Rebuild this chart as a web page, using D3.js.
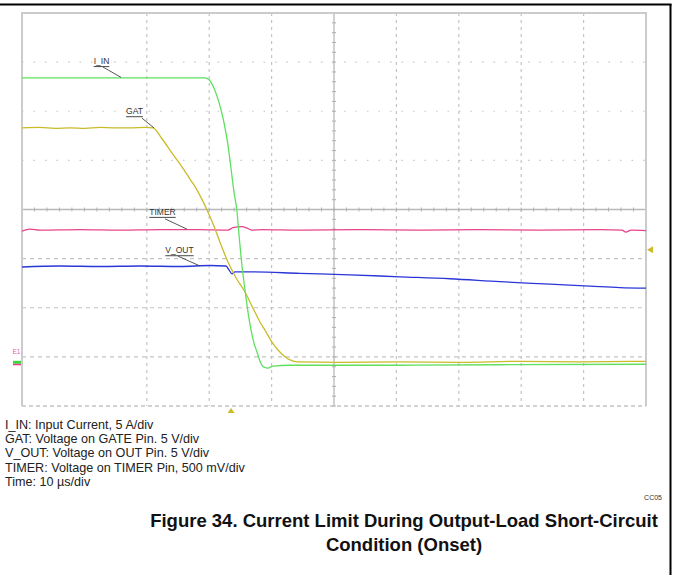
<!DOCTYPE html>
<html><head><meta charset="utf-8">
<script src="https://cdn.jsdelivr.net/npm/d3@7"></script>
<style>body{margin:0;background:#fff}svg{display:block}</style>
</head><body>
<script>
// time in µs (10 µs/div, 10 div), value in divisions (-4..4)
const iinT = [0,29.33,29.97,30.77,31.57,32.37,33.01,33.49,33.97,34.46,34.78,35.26,35.74,36.22,36.70,37.18,37.66,38.14,38.78,39.42,40.22,42.95,60.58,76.60,100];
const iinV = [2.68,2.68,2.64,2.47,2.18,1.77,1.31,0.84,0.36,-0.05,-0.52,-1.15,-1.64,-2.09,-2.45,-2.72,-2.90,-3.09,-3.21,-3.23,-3.19,-3.17,-3.17,-3.16,-3.15];
const gatT = [0,2.88,5.29,7.69,10.10,12.50,14.90,17.31,19.71,20.99,22.44,24.04,25.64,26.92,28.04,29.65,30.77,31.89,33.01,34.29,35.74,37.02,38.14,39.10,40.06,41.03,41.99,42.95,44.23,50.96,60.58,70.19,79.81,89.42,100];
const gatV = [1.66,1.67,1.65,1.66,1.65,1.67,1.66,1.66,1.67,1.66,1.44,1.15,0.87,0.62,0.40,-0.01,-0.34,-0.72,-1.07,-1.39,-1.68,-2.01,-2.29,-2.49,-2.70,-2.86,-2.98,-3.06,-3.10,-3.11,-3.10,-3.11,-3.09,-3.10,-3.09];
const timT = [0,1.28,2.88,9.29,15.71,22.12,28.53,33.01,33.81,35.26,36.06,36.86,38.46,44.55,54.17,63.78,73.40,83.01,92.63,96.15,96.79,97.60,100];
const timV = [-0.44,-0.40,-0.42,-0.41,-0.42,-0.41,-0.41,-0.42,-0.37,-0.35,-0.38,-0.42,-0.41,-0.42,-0.41,-0.42,-0.41,-0.42,-0.41,-0.42,-0.46,-0.42,-0.43];
const voutT = [0,6.09,12.50,18.91,25.32,30.13,32.69,33.17,33.65,34.13,36.54,44.55,52.56,60.58,68.59,76.60,84.62,91.03,95.83,100];
const voutV = [-1.17,-1.15,-1.16,-1.15,-1.16,-1.14,-1.15,-1.23,-1.31,-1.27,-1.27,-1.30,-1.33,-1.37,-1.41,-1.47,-1.52,-1.56,-1.59,-1.60];

const seriesNames = ["I_IN","GAT","TIMER","V_OUT"];
const seriesColors = ["#5fe05f","#c9bb2a","#e8448c","#2a36d6"];
// label text position and leader line (data units)
const labelT = [12.74,18.03,22.52,25.24];
const labelV = [2.96,1.94,-0.11,-0.89];
const leaderT0 = [12.98,19.23,22.92,25.0];
const leaderV0 = [2.90,1.86,-0.19,-0.95];
const leaderT1 = [15.87,21.15,26.44,28.53];
const leaderV1 = [2.69,1.66,-0.40,-1.15];

const triggerTime = 33.5;
const triggerLevel = -0.82;

const legendLines = [
  "I_IN: Input Current, 5 A/div",
  "GAT: Voltage on GATE Pin. 5 V/div",
  "V_OUT: Voltage on OUT Pin. 5 V/div",
  "TIMER: Voltage on TIMER Pin, 500 mV/div",
  "Time: 10 µs/div"
];
const captionLines = ["Figure 34. Current Limit During Output-Load Short-Circuit","Condition (Onset)"];

const W = 673, H = 575;
const L = 22, R = 646, T = 13, B = 406;
const x = d3.scaleLinear().domain([0,100]).range([L,R]);
const y = d3.scaleLinear().domain([-4,4]).range([B,T]);
const font = "'Liberation Sans', Arial, Helvetica, sans-serif";

const svg = d3.select("body").append("svg").attr("width",W).attr("height",H);

// outer border
svg.append("line").attr("x1",0).attr("x2",671.5).attr("y1",4.5).attr("y2",4.5).attr("stroke","#000").attr("stroke-width",2);
svg.append("line").attr("x1",670.5).attr("x2",670.5).attr("y1",4).attr("y2",H).attr("stroke","#000").attr("stroke-width",2);

const g = svg.append("g");
// grid
const vDivs = d3.range(1,10).filter(d => d !== 1 && d !== 5);
g.selectAll(".vg").data(vDivs).join("line")
  .attr("x1",d=>x(d*10)).attr("x2",d=>x(d*10)).attr("y1",T).attr("y2",B)
  .attr("stroke","#c4c4c4").attr("stroke-width",1.2).attr("stroke-dasharray","3,4");
const hUpper = [1,2,3];
g.selectAll(".hu").data(hUpper).join("line")
  .attr("x1",L).attr("x2",R).attr("y1",d=>y(d)).attr("y2",d=>y(d))
  .attr("stroke","#c8c8c8").attr("stroke-width",1.2).attr("stroke-dasharray","1.5,10");
const hLower = [-1,-2,-3];
g.selectAll(".hl").data(hLower).join("line")
  .attr("x1",L).attr("x2",R).attr("y1",d=>y(d)).attr("y2",d=>y(d))
  .attr("stroke","#c4c4c4").attr("stroke-width",1.2).attr("stroke-dasharray","4,4");
// centre axes with ticks
g.append("line").attr("x1",L).attr("x2",R).attr("y1",y(0)).attr("y2",y(0)).attr("stroke","#b8b8b8").attr("stroke-width",1.3);
g.append("line").attr("x1",x(50)).attr("x2",x(50)).attr("y1",T).attr("y2",B).attr("stroke","#b8b8b8").attr("stroke-width",1.3);
g.selectAll(".xt").data(d3.range(0,100.1,2)).join("line")
  .attr("x1",d=>x(d)).attr("x2",d=>x(d)).attr("y1",y(0)-2).attr("y2",y(0)+2).attr("stroke","#b0b0b0");
g.selectAll(".yt").data(d3.range(-4,4.01,0.2)).join("line")
  .attr("y1",d=>y(d)).attr("y2",d=>y(d)).attr("x1",x(50)-2).attr("x2",x(50)+2).attr("stroke","#b0b0b0");
// frame
g.append("path").attr("d",`M${L},${B}V${T}H${R}V${B}`).attr("fill","none").attr("stroke","#cbcbcb").attr("stroke-width",2);
g.append("line").attr("x1",L).attr("x2",R).attr("y1",B).attr("y2",B).attr("stroke","#c4c4c4").attr("stroke-width",1.3).attr("stroke-dasharray","4,3");

// traces
const line = d3.line().x(d=>x(d[0])).y(d=>y(d[1])).curve(d3.curveMonotoneX);
const traces = [[iinT,iinV],[gatT,gatV],[timT,timV],[voutT,voutV]];
const drawOrder = [2,3,1,0];
drawOrder.forEach(i => {
  const [ts,vs] = traces[i];
  g.append("path").datum(ts.map((t,k)=>[t,vs[k]]))
    .attr("d",line).attr("fill","none").attr("stroke",seriesColors[i]).attr("stroke-width",1.3);
});

// labels
seriesNames.forEach((n,i) => {
  const t = g.append("text").attr("x",x(labelT[i])).attr("y",y(labelV[i]))
    .attr("text-anchor","middle").attr("font-family",font).attr("font-size",8.5).attr("fill","#333").text(n);
  const w = t.node().getComputedTextLength();
  g.append("line").attr("x1",x(labelT[i])-w/2).attr("x2",x(labelT[i])+w/2)
    .attr("y1",y(labelV[i])+2.5).attr("y2",y(labelV[i])+2.5).attr("stroke","#333").attr("stroke-width",0.9);
  g.append("line").attr("x1",x(leaderT0[i])).attr("y1",y(leaderV0[i])).attr("x2",x(leaderT1[i])).attr("y2",y(leaderV1[i]))
    .attr("stroke","#444").attr("stroke-width",0.9);
});

// markers
const yel = "#c9bb2a";
const tx = x(triggerTime);
svg.append("path").attr("d",`M${tx},${B+2}L${tx-3.5},${B+7}L${tx+3.5},${B+7}Z`).attr("fill",yel);
const ty = y(triggerLevel);
svg.append("path").attr("d",`M${R+1},${ty}L${R+7},${ty-3.5}L${R+7},${ty+3.5}Z`).attr("fill",yel);
// ground marker on left
svg.append("text").attr("x",12.5).attr("y",y(-2.95)).attr("font-family",font).attr("font-size",6.5).attr("fill","#e060b0").text("E1");
svg.append("rect").attr("x",13).attr("y",y(-3.08)).attr("width",8).attr("height",3).attr("fill","#3ed83e");
svg.append("rect").attr("x",13).attr("y",y(-3.08)+3).attr("width",8).attr("height",1.5).attr("fill","#e8448c");

// legend text
svg.selectAll(".lg").data(legendLines).join("text")
  .attr("x",5).attr("y",(d,i)=>429+i*14.2)
  .attr("font-family",font).attr("font-size",12.6).attr("fill","#222").text(d=>d);
svg.append("text").attr("x",662).attr("y",500).attr("text-anchor","end").attr("font-family",font).attr("font-size",7).attr("fill","#333").text("CC05");
// caption
svg.selectAll(".cap").data(captionLines).join("text")
  .attr("x",404).attr("y",(d,i)=>527+i*24).attr("text-anchor","middle")
  .attr("font-family",font).attr("font-size",18.5).attr("font-weight","bold").attr("fill","#111").text(d=>d);
</script>
</body></html>
